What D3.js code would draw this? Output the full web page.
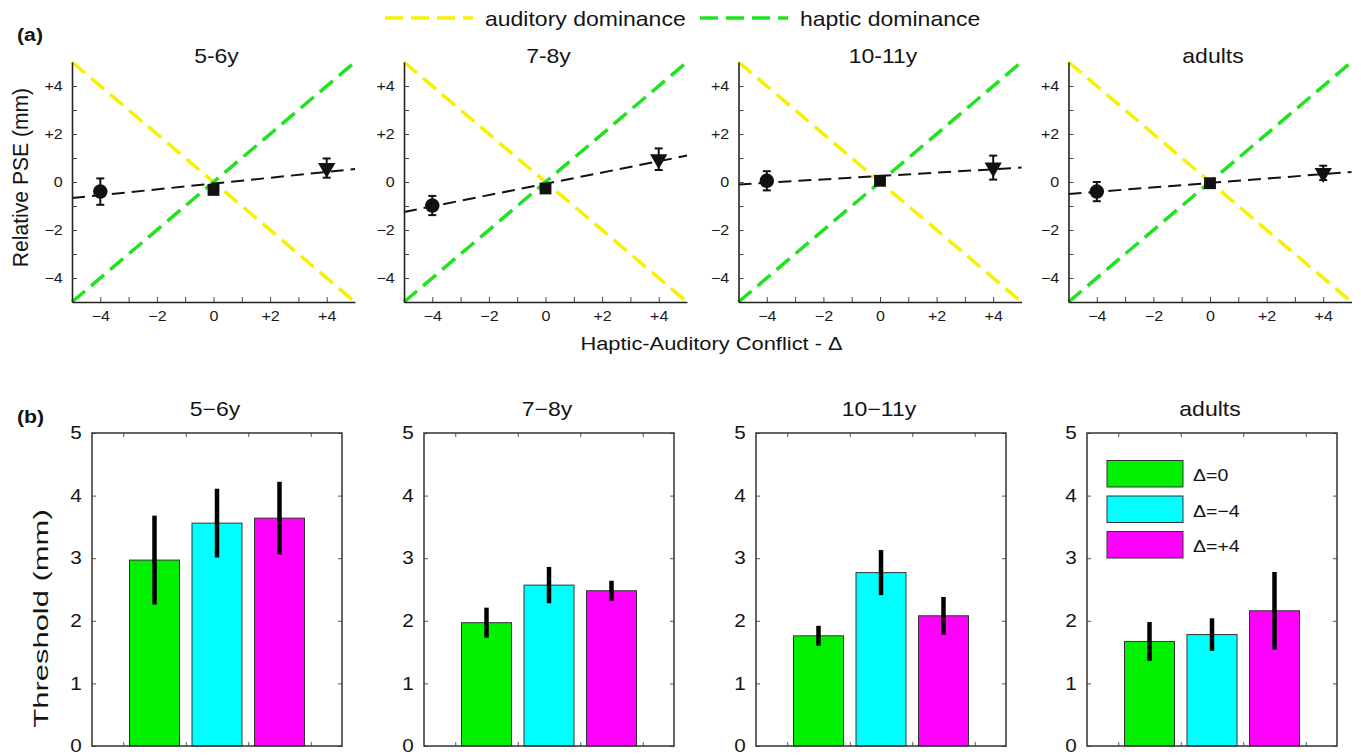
<!DOCTYPE html>
<html>
<head>
<meta charset="utf-8">
<script src="https://cdn.jsdelivr.net/npm/d3@7"></script>
<style>
  body { margin: 0; background: #fff; }
  svg { display: block; font-family: "Liberation Sans", Arial, sans-serif; }
</style>
</head>
<body>
<svg width="1361" height="755"></svg>
<script>
// ---------- data, panel (a): relative PSE vs conflict
const groups = ["5-6y", "7-8y", "10-11y", "adults"]
const conflicts = [-4, 0, 4]
const pseMean = [
  [-0.40, -0.33, 0.58],
  [-0.98, -0.27, 0.95],
  [0.05, 0.05, 0.60],
  [-0.40, -0.05, 0.38]
]
const pseErr = [
  [0.55, 0.12, 0.40],
  [0.40, 0.12, 0.45],
  [0.40, 0.10, 0.50],
  [0.40, 0.10, 0.30]
]
// dashed fit line, value at conflict -5 and +5
const fitStart = [-0.67, -1.25, -0.10, -0.50]
const fitEnd = [0.54, 1.10, 0.60, 0.42]
const pseTicks = [-4, -3, -2, -1, 0, 1, 2, 3, 4]
const dominance = ["auditory dominance", "haptic dominance"]

// ---------- data, panel (b): thresholds
const barGroups = ["5−6y", "7−8y", "10−11y", "adults"]
const conditions = ["Δ=0", "Δ=−4", "Δ=+4"]
const thresholds = [
  [2.97, 3.56, 3.64],
  [1.97, 2.57, 2.48],
  [1.76, 2.77, 2.08],
  [1.67, 1.78, 2.16]
]
const thresholdErr = [
  [0.71, 0.55, 0.58],
  [0.24, 0.29, 0.16],
  [0.16, 0.36, 0.30],
  [0.31, 0.26, 0.62]
]
const thresholdTicks = [0, 1, 2, 3, 4, 5]

// ---------- styling
const yellow = "#f8f000"
const green = "#1fe31f"
const condColors = ["#00f000", "#00ffff", "#ff00ff"]
const SX = 1.15   // reference text is drawn a little wide

const svg = d3.select("svg")

// text helper: stretched horizontally like the reference
function label(parent, s, x, y, size, anchor, extra) {
  const t = parent.append("g")
    .attr("transform", `translate(${x},${y}) ${extra || `scale(${SX},1)`}`)
    .append("text")
    .attr("text-anchor", anchor || "middle")
    .attr("font-size", size)
    .attr("fill", "#141414")
    .text(s)
  return t
}

const signed = d => d === 0 ? "0" : d > 0 ? "+" + d : "−" + (-d)

// ---------- panel (a)
label(svg, "(a)", 17, 41, 18.5, "start").attr("font-weight", "bold")

// legend on top
svg.append("line").attr("x1", 385).attr("x2", 473).attr("y1", 18).attr("y2", 18)
  .attr("stroke", yellow).attr("stroke-width", 3.5).attr("stroke-dasharray", "18,8")
label(svg, dominance[0], 485, 26, 20, "start")
svg.append("line").attr("x1", 700).attr("x2", 788).attr("y1", 18).attr("y2", 18)
  .attr("stroke", green).attr("stroke-width", 3.5).attr("stroke-dasharray", "18,8")
label(svg, dominance[1], 800, 26, 20, "start")

const topLeft = [72, 404, 738.5, 1068.5]
const topW = 283

groups.forEach((name, i) => {
  const g = svg.append("g")
  const x = d3.scaleLinear().domain([-5, 5]).range([topLeft[i], topLeft[i] + topW])
  const y = d3.scaleLinear().domain([-5, 5]).range([302, 62])

  // dominance predictions
  g.append("line")
    .attr("x1", x(-5)).attr("y1", y(5)).attr("x2", x(5)).attr("y2", y(-5))
    .attr("stroke", yellow).attr("stroke-width", 3.5).attr("stroke-dasharray", "17,8")
  g.append("line")
    .attr("x1", x(-5)).attr("y1", y(-5)).attr("x2", x(5)).attr("y2", y(5))
    .attr("stroke", green).attr("stroke-width", 3.5).attr("stroke-dasharray", "17,8")

  // fit
  g.append("line")
    .attr("x1", x(-5)).attr("y1", y(fitStart[i])).attr("x2", x(5)).attr("y2", y(fitEnd[i]))
    .attr("stroke", "#111").attr("stroke-width", 2).attr("stroke-dasharray", "13,7")

  // axes
  const ax = g.append("g").attr("transform", `translate(${x(-5)},0)`)
    .call(d3.axisLeft(y).tickValues(pseTicks).tickSizeInner(-5).tickSizeOuter(0)
      .tickPadding(8).tickFormat(d => d % 2 === 0 ? signed(d) : ""))
  const bx = g.append("g").attr("transform", `translate(0,${y(-5)})`)
    .call(d3.axisBottom(x).tickValues(pseTicks).tickSizeInner(-5).tickSizeOuter(0)
      .tickPadding(9).tickFormat(d => d % 2 === 0 ? signed(d) : ""))
  ;[ax, bx].forEach(a => {
    a.attr("font-family", null).attr("font-size", null)
    a.select(".domain").attr("stroke", "#222").attr("stroke-width", 1.6)
    a.selectAll(".tick line").attr("stroke", "#444")
    a.selectAll("text").attr("font-size", 14).attr("fill", "#1a1a1a")
      .attr("transform", `scale(${SX},1)`)
  })

  // data points
  const shapes = [d3.symbolCircle, d3.symbolSquare, d3.symbolTriangle]
  const sizes = [165, 140, 130]
  conflicts.forEach((c, j) => {
    const m = pseMean[i][j], e = pseErr[i][j]
    g.append("line").attr("x1", x(c)).attr("x2", x(c))
      .attr("y1", y(m - e)).attr("y2", y(m + e)).attr("stroke", "#111").attr("stroke-width", 2)
    ;[m - e, m + e].forEach(v => g.append("line")
      .attr("x1", x(c) - 4).attr("x2", x(c) + 4).attr("y1", y(v)).attr("y2", y(v))
      .attr("stroke", "#111").attr("stroke-width", 2))
    g.append("path")
      .attr("d", d3.symbol().type(shapes[j]).size(sizes[j])())
      .attr("transform", `translate(${x(c)},${y(m)})` + (j === 2 ? " rotate(180)" : ""))
      .attr("fill", "#111")
  })

  label(g, name, x(0) + 3, 63, 20)
})

label(svg, "Relative PSE (mm)", 28, 177.5, 19, "middle", `scale(${SX},1.11) rotate(-90)`)
label(svg, "Haptic-Auditory Conflict - Δ", 711.5, 350, 19)

// ---------- panel (b)
label(svg, "(b)", 17, 423, 18.5, "start").attr("font-weight", "bold")

const botLeft = [92, 424, 756, 1087]
const botW = 250

barGroups.forEach((name, i) => {
  const g = svg.append("g")
  const x = d3.scaleLinear().domain([0, 4]).range([botLeft[i], botLeft[i] + botW])
  const y = d3.scaleLinear().domain([0, 5]).range([746, 433])
  const bw = x(0.8) - x(0)

  // bars
  thresholds[i].forEach((v, j) => {
    g.append("rect")
      .attr("x", x(j + 1) - bw / 2).attr("width", bw)
      .attr("y", y(v)).attr("height", y(0) - y(v))
      .attr("fill", condColors[j]).attr("stroke", "#333").attr("stroke-width", 1)
  })
  thresholds[i].forEach((v, j) => {
    const e = thresholdErr[i][j]
    g.append("line").attr("x1", x(j + 1)).attr("x2", x(j + 1))
      .attr("y1", y(v - e)).attr("y2", y(v + e))
      .attr("stroke", "#000").attr("stroke-width", 4.5)
  })

  // box and ticks on all four sides
  const halfTicks = [0.5, 1.5, 2.5, 3.5]
  const axes = [
    g.append("g").attr("transform", `translate(${x(0)},0)`)
      .call(d3.axisLeft(y).tickValues(thresholdTicks).tickSizeInner(-4).tickSizeOuter(0)
        .tickPadding(9).tickFormat(d3.format("d"))),
    g.append("g").attr("transform", `translate(${x(4)},0)`)
      .call(d3.axisRight(y).tickValues(thresholdTicks).tickSizeInner(-4).tickSizeOuter(0).tickFormat("")),
    g.append("g").attr("transform", `translate(0,${y(0)})`)
      .call(d3.axisBottom(x).tickValues(halfTicks).tickSizeInner(-4).tickSizeOuter(0).tickFormat("")),
    g.append("g").attr("transform", `translate(0,${y(5)})`)
      .call(d3.axisTop(x).tickValues(halfTicks).tickSizeInner(-4).tickSizeOuter(0).tickFormat(""))
  ]
  axes.forEach(a => {
    a.attr("font-family", null).attr("font-size", null)
    a.select(".domain").remove()
    a.selectAll(".tick line").attr("stroke", "#555")
    a.selectAll("text").attr("font-size", 18).attr("fill", "#141414")
      .attr("transform", `scale(${SX},1)`)
  })
  g.append("rect")
    .attr("x", x(0)).attr("y", y(5)).attr("width", x(4) - x(0)).attr("height", y(0) - y(5))
    .attr("fill", "none").attr("stroke", "#333").attr("stroke-width", 1.5)

  label(g, name, x(2) - 2, 416, 20)

  // legend inside the last panel
  if (i === barGroups.length - 1) {
    conditions.forEach((c, j) => {
      const top = y(5) + 27.5 + j * 35.5
      g.append("rect")
        .attr("x", x(0) + 20).attr("y", top).attr("width", 76).attr("height", 26.5)
        .attr("fill", condColors[j]).attr("stroke", "#333").attr("stroke-width", 1)
      label(g, c, x(0) + 106, top + 20.5, 17, "start")
    })
  }
})

label(svg, "Threshold (mm)", 47.5, 618.5, 18, "middle", `scale(${SX},1.72) rotate(-90)`)
</script>
</body>
</html>
